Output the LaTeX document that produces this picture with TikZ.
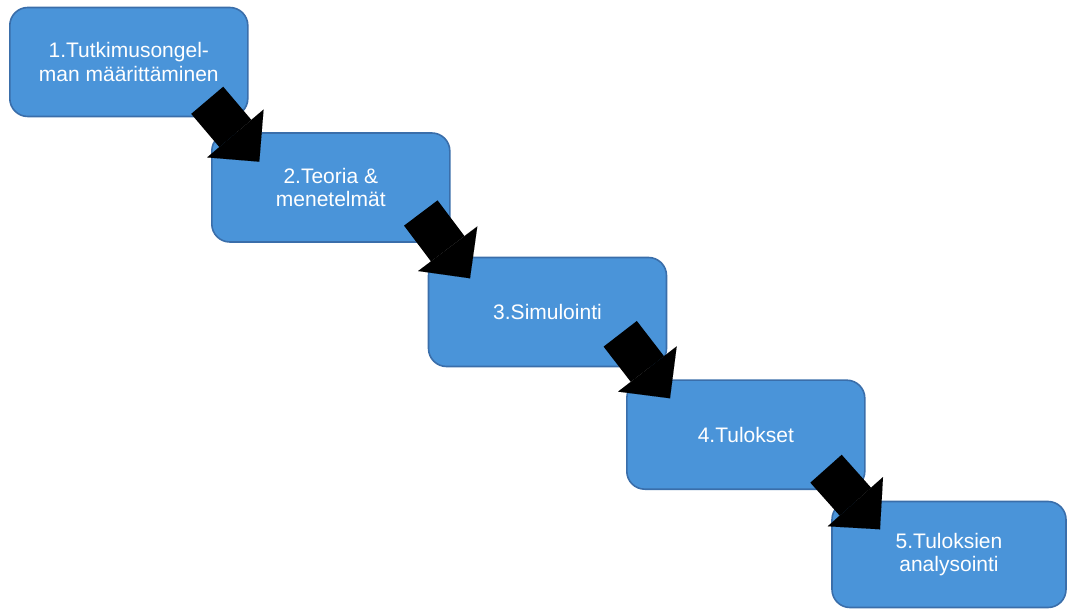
\documentclass[tikz,border=0pt]{standalone}
\usepackage{fontspec}
\setmainfont{Liberation Sans}
\usetikzlibrary{arrows.meta}
\definecolor{boxfill}{RGB}{74,148,217}
\definecolor{boxline}{RGB}{58,110,170}
\tikzset{
  stepbox/.style={draw=boxline, line width=1.2pt, fill=boxfill, rounded corners=13.5pt,
    minimum width=178.5pt, minimum height=81.75pt, inner sep=0pt, align=center,
    text=white, font=\fontsize{15.75}{17.5}\selectfont},
  blockarrow/.style={line width=31.5pt, black,
    -{Triangle[length=27.75pt, width=55.5pt, line width=0.01pt]}}
}
\begin{document}
\begin{tikzpicture}[x=0.75pt, y=-0.75pt]
\useasboundingbox (0,0) rectangle (1067,609);
\node[stepbox] (b1) at (128.8,62) {1.Tutkimusongel-\\man määrittäminen};
\node[stepbox] (b2) at (330.8,187.5) {2.Teoria \&\\menetelmät};
\node[stepbox] (b3) at (547.5,312) {3.Simulointi};
\node[stepbox] (b4) at (745.8,434.7) {4.Tulokset};
\node[stepbox, minimum width=175.5pt, minimum height=79.5pt] (b5) at (949,554.5) {5.Tuloksien\\analysointi};
\coordinate (a1s) at (207.2,100.3);
\coordinate (a1e) at (259.3,161.7);
\coordinate (a2s) at (420.8,213);
\coordinate (a2e) at (470,278.3);
\coordinate (a3s) at (620.2,333.8);
\coordinate (a3e) at (670,398.3);
\coordinate (a4s) at (826,468.7);
\coordinate (a4e) at (880,529.3);
\draw[blockarrow] (a1s) -- (a1e);
\draw[blockarrow] (a2s) -- (a2e);
\draw[blockarrow] (a3s) -- (a3e);
\draw[blockarrow] (a4s) -- (a4e);
\end{tikzpicture}
\end{document}
